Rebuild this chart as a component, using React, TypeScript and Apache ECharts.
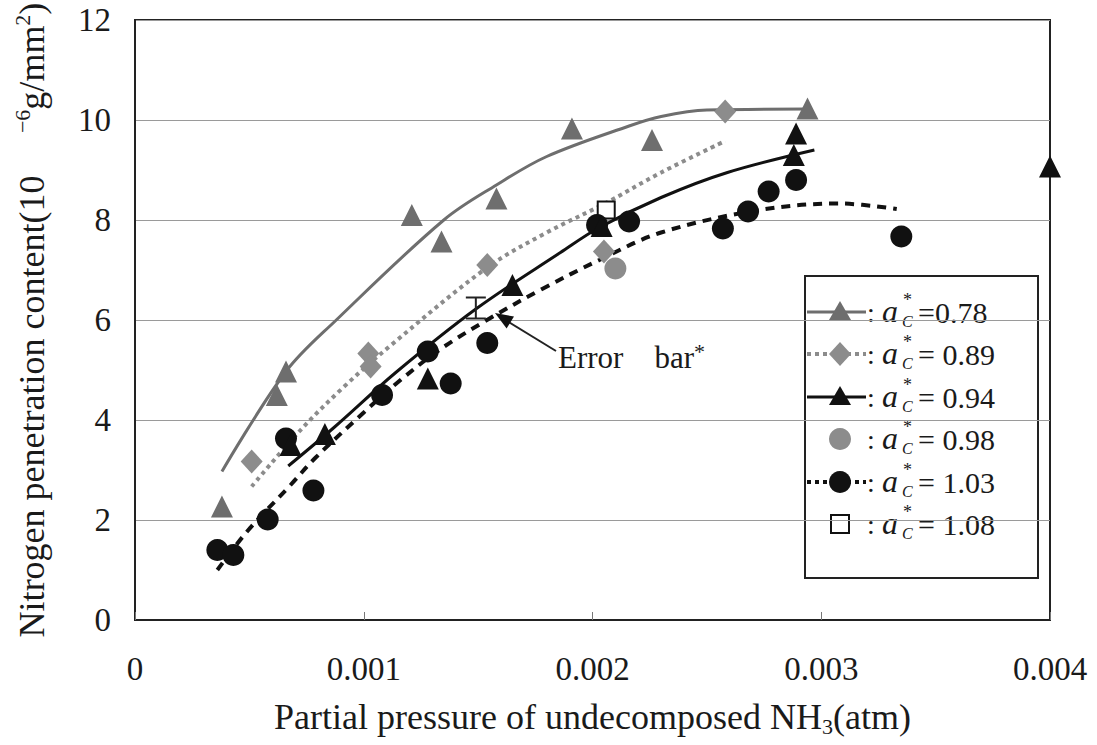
import React, { useEffect, useRef } from "react";
import * as echarts from "echarts";

// Axis ticks
const xTickValues = [0, 0.001, 0.002, 0.003, 0.004];
const yTickValues = [0, 2, 4, 6, 8, 10, 12];

// Measured points, [partial pressure (atm), nitrogen content (1e-6 g/mm2)]
const meas078: [number, number][] = [
  [0.00038, 2.27], [0.00062, 4.5], [0.00066, 4.97], [0.00121, 8.1], [0.00134, 7.57],
  [0.00158, 8.43], [0.00191, 9.83], [0.00226, 9.6], [0.00294, 10.23],
];
const meas089: [number, number][] = [
  [0.00051, 3.17], [0.00102, 5.33], [0.00103, 5.07], [0.00154, 7.1], [0.00205, 7.37], [0.00258, 10.17],
];
const meas094: [number, number][] = [
  [0.00068, 3.5], [0.00083, 3.72], [0.00128, 4.83], [0.00165, 6.7], [0.00204, 7.88],
  [0.00288, 9.3], [0.00289, 9.73], [0.004, 9.07],
];
const meas098: [number, number][] = [[0.0021, 7.03]];
const meas103: [number, number][] = [
  [0.00036, 1.4], [0.00043, 1.3], [0.00058, 2.01], [0.00078, 2.59], [0.00066, 3.63],
  [0.00108, 4.5], [0.00128, 5.37], [0.00138, 4.73], [0.00154, 5.54], [0.00202, 7.9],
  [0.00216, 7.97], [0.00257, 7.83], [0.00268, 8.17], [0.00277, 8.57], [0.00289, 8.8], [0.00335, 7.67],
];
const meas108: [number, number][] = [[0.00206, 8.2]];

// Fitted trend curves
const fit078: [number, number][] = [
  [0.00038, 2.97], [0.00066, 4.97], [0.00088, 6.0], [0.00135, 8.0], [0.00158, 8.7],
  [0.0018, 9.27], [0.00216, 9.88], [0.0023, 10.07], [0.0025, 10.2], [0.00294, 10.22],
];
const fit089: [number, number][] = [
  [0.00051, 2.67], [0.00072, 3.78], [0.00091, 4.65], [0.00112, 5.5], [0.00154, 7.05],
  [0.0018, 7.75], [0.00205, 8.32], [0.0023, 8.95], [0.00258, 9.58],
];
const fit094: [number, number][] = [
  [0.00067, 3.08], [0.00087, 3.85], [0.00114, 4.95], [0.00149, 6.22], [0.00186, 7.35],
  [0.00203, 7.85], [0.0023, 8.45], [0.00259, 8.95], [0.00297, 9.4],
];
const fit103: [number, number][] = [
  [0.00036, 1.0], [0.00049, 1.77], [0.00068, 2.7], [0.00079, 3.25], [0.001, 4.15],
  [0.00114, 4.72], [0.00133, 5.4], [0.00155, 6.03], [0.00178, 6.62], [0.00203, 7.2],
  [0.0023, 7.75], [0.00273, 8.2], [0.00308, 8.33], [0.00333, 8.22],
];

// Error bar: [x, low, high]
const errorBars: [number, number, number][] = [[0.00149, 6.03, 6.45]];

const legendValues = ["=0.78", "= 0.89", "= 0.94", "= 0.98", "= 1.03", "= 1.08"];

const FONT = '"Liberation Serif", "Times New Roman", serif';
const GRAY_DARK = "#6e6e6e";
const GRAY_MID = "#8c8c8c";
const BLACK = "#111111";

function legendRow(i: number, y: number): any[] {
  const items: any[] = [];
  const lx0 = 807;
  const lx1 = 866;
  const mx = 840;
  if (i === 0) items.push({ type: "line", shape: { x1: lx0, y1: y, x2: lx1, y2: y }, style: { stroke: GRAY_DARK, lineWidth: 3 } });
  if (i === 1) items.push({ type: "line", shape: { x1: lx0, y1: y, x2: lx1, y2: y }, style: { stroke: GRAY_MID, lineWidth: 4, lineDash: [4, 4] } });
  if (i === 2) items.push({ type: "line", shape: { x1: lx0, y1: y, x2: lx1, y2: y }, style: { stroke: BLACK, lineWidth: 3 } });
  if (i === 4) items.push({ type: "line", shape: { x1: lx0, y1: y, x2: lx1, y2: y }, style: { stroke: BLACK, lineWidth: 4, lineDash: [4, 4] } });
  if (i === 0 || i === 2) {
    items.push({
      type: "polygon",
      shape: { points: [[mx, y - 11], [mx + 11, y + 8], [mx - 11, y + 8]] },
      style: { fill: i === 0 ? GRAY_DARK : BLACK },
    });
  }
  if (i === 1) {
    items.push({
      type: "polygon",
      shape: { points: [[mx, y - 12], [mx + 11, y], [mx, y + 12], [mx - 11, y]] },
      style: { fill: GRAY_MID },
    });
  }
  if (i === 3) items.push({ type: "circle", shape: { cx: mx, cy: y, r: 11 }, style: { fill: GRAY_MID } });
  if (i === 4) items.push({ type: "circle", shape: { cx: mx, cy: y, r: 11 }, style: { fill: BLACK } });
  if (i === 5) items.push({ type: "rect", shape: { x: mx - 9, y: y - 9, width: 18, height: 18 }, style: { fill: "#fff", stroke: BLACK, lineWidth: 2 } });

  const txt = (x: number, yy: number, text: string, font: string) => ({
    type: "text",
    x,
    y: yy,
    style: { text, font, fill: "#1a1a1a", textAlign: "left", textVerticalAlign: "middle", align: "left", verticalAlign: "middle" },
  });
  items.push(txt(867, y, ":", `28px ${FONT}`));
  items.push(txt(882, y - 1, "a", `italic 32px ${FONT}`));
  items.push(txt(902, y + 9, "C", `italic 16px ${FONT}`));
  items.push(txt(903, y - 12, "*", `18px ${FONT}`));
  items.push(txt(918, y, legendValues[i], `30px ${FONT}`));
  return items;
}

export default function App() {
  const ref = useRef<HTMLDivElement>(null);

  useEffect(() => {
    if (!ref.current) return;
    const chart = echarts.init(ref.current, undefined, { renderer: "svg" });

    const legendYs = [312, 354, 397, 439, 482, 524];
    const legendChildren: any[] = [
      { type: "rect", shape: { x: 805, y: 276, width: 233, height: 302 }, style: { fill: "#fff", stroke: "#222", lineWidth: 2 } },
    ];
    legendYs.forEach((y, i) => legendChildren.push(...legendRow(i, y)));

    const scatter = (name: string, data: [number, number][], symbol: string, size: any, color: string, extra: any = {}) => ({
      name,
      type: "scatter",
      data,
      symbol,
      symbolSize: size,
      clip: false,
      itemStyle: { color, opacity: 1, ...extra },
      z: 5,
    });
    const fitLine = (name: string, data: [number, number][], color: string, width: number, type: any) => ({
      name,
      type: "line",
      data,
      showSymbol: false,
      symbol: "none",
      smooth: 0.35,
      lineStyle: { color, width, type, cap: "butt" },
      z: 3,
    });

    chart.setOption({
      animation: false,
      backgroundColor: "#fff",
      textStyle: { fontFamily: FONT },
      grid: {
        left: 135, right: 47, top: 20, bottom: 125,
        containLabel: false, outerBoundsMode: "none",
        show: true, borderColor: "#222", borderWidth: 2, backgroundColor: "transparent",
      },
      xAxis: {
        type: "value",
        min: xTickValues[0],
        max: xTickValues[xTickValues.length - 1],
        interval: 0.001,
        name: "{t|Partial pressure of undecomposed NH}{s|3}{t|(atm)}",
        nameLocation: "middle",
        nameGap: 77,
        nameTextStyle: {
          rich: {
            t: { fontSize: 36, fontFamily: FONT, color: "#1a1a1a", lineHeight: 40 },
            s: { fontSize: 22, fontFamily: FONT, color: "#1a1a1a", verticalAlign: "bottom" },
          },
        },
        axisLine: { show: true, lineStyle: { color: "#222", width: 2 } },
        axisTick: { show: true, inside: true, length: 8, lineStyle: { color: "#777" } },
        axisLabel: {
          fontSize: 33,
          fontFamily: FONT,
          color: "#1a1a1a",
          margin: 32,
          formatter: (v: number) => (v === 0 ? "0" : v.toFixed(3)),
        },
        splitLine: { show: false },
      },
      yAxis: {
        type: "value",
        min: yTickValues[0],
        max: yTickValues[yTickValues.length - 1],
        interval: 2,
        name: "{t|Nitrogen penetration content(10}{g|     }{s|−6}{t|g/mm}{s|2}{t|)}",
        nameLocation: "middle",
        nameRotate: 90,
        nameGap: 82,
        nameTextStyle: {
          rich: {
            t: { fontSize: 36, fontFamily: FONT, color: "#1a1a1a", lineHeight: 42 },
            g: { fontSize: 34, fontFamily: FONT },
            s: { fontSize: 22, fontFamily: FONT, color: "#1a1a1a", verticalAlign: "top" },
          },
        },
        axisLine: { show: true, lineStyle: { color: "#222", width: 2 } },
        axisTick: { show: false },
        axisLabel: { fontSize: 33, fontFamily: FONT, color: "#1a1a1a", margin: 24 },
        splitLine: { show: true, lineStyle: { color: "#9a9a9a", width: 1 } },
      },
      graphic: [
        { type: "group", z: 100, children: legendChildren },
        { type: "line", z: 50, shape: { x1: 556, y1: 351, x2: 507, y2: 321 }, style: { stroke: "#222", lineWidth: 2 } },
        { type: "polygon", z: 50, shape: { points: [[495, 313], [514, 316.5], [506.6, 328.5]] }, style: { fill: "#111" } },
        {
          type: "text",
          z: 50,
          x: 558,
          y: 357,
          style: {
            text: "{t|Error    bar}{s|*}",
            textAlign: "left",
            textVerticalAlign: "middle",
            align: "left",
            verticalAlign: "middle",
            rich: {
              t: { font: `31px ${FONT}`, fill: "#1a1a1a", lineHeight: 34 },
              s: { font: `22px ${FONT}`, fill: "#1a1a1a", verticalAlign: "top" },
            },
          },
        },
      ],
      series: [
        fitLine("fit 0.78", fit078, GRAY_DARK, 3, "solid"),
        fitLine("fit 0.89", fit089, GRAY_MID, 4, [4, 4]),
        fitLine("fit 0.94", fit094, BLACK, 3, "solid"),
        fitLine("fit 1.03", fit103, BLACK, 4, [9, 7]),
        scatter("1.08", meas108, "rect", 17, "#fff", { borderColor: BLACK, borderWidth: 2 }),
        scatter("0.78", meas078, "triangle", 22, GRAY_DARK),
        scatter("0.89", meas089, "diamond", [22, 24], GRAY_MID),
        scatter("0.98", meas098, "circle", 22, GRAY_MID),
        scatter("1.03", meas103, "circle", 22, BLACK),
        scatter("0.94", meas094, "triangle", 22, BLACK),
        {
          name: "error bar",
          type: "custom",
          data: errorBars,
          z: 6,
          renderItem: (_params: any, api: any) => {
            const x = api.value(0);
            const lo = api.coord([x, api.value(1)]);
            const hi = api.coord([x, api.value(2)]);
            const half = 10;
            const st = { stroke: "#222", lineWidth: 2 };
            return {
              type: "group",
              children: [
                { type: "line", shape: { x1: lo[0], y1: lo[1], x2: hi[0], y2: hi[1] }, style: st },
                { type: "line", shape: { x1: lo[0] - half, y1: lo[1], x2: lo[0] + half, y2: lo[1] }, style: st },
                { type: "line", shape: { x1: hi[0] - half, y1: hi[1], x2: hi[0] + half, y2: hi[1] }, style: st },
              ],
            };
          },
        },
      ],
    });

    return () => chart.dispose();
  }, []);

  return (
    <div
      ref={ref}
      style={{ position: "fixed", left: 0, top: 0, width: 1097, height: 745, background: "#fff" }}
    />
  );
}
